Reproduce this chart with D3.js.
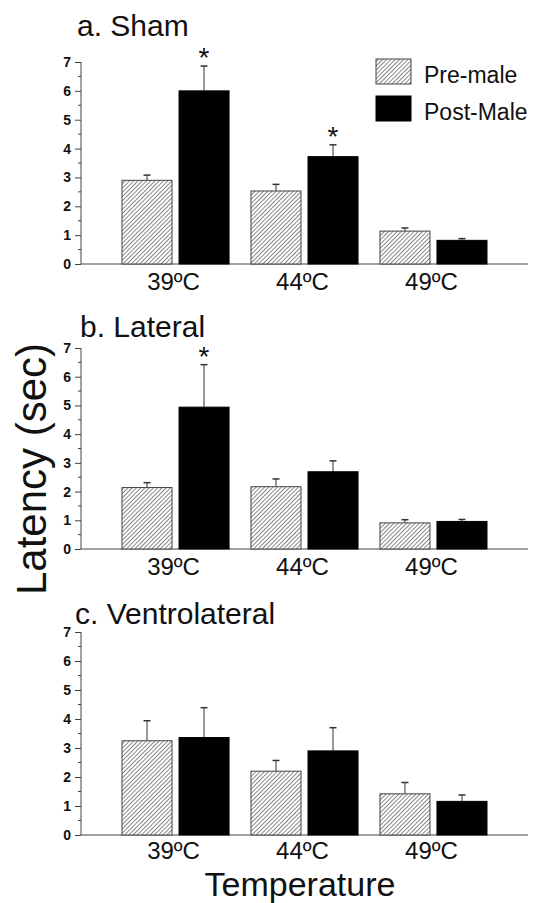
<!DOCTYPE html>
<html><head><meta charset="utf-8">
<script src="https://cdn.jsdelivr.net/npm/d3@7"></script>
<style>
body{margin:0;background:#fff;}
svg{display:block;font-family:"Liberation Sans",Arial,sans-serif;}
</style></head>
<body>
<svg id="chart" width="534" height="903"></svg>
<script>
const categories = ["39ºC", "44ºC", "49ºC"];
const series = ["Pre-male", "Post-Male"];
const yTicks = [0, 1, 2, 3, 4, 5, 6, 7];

const panelTitles = ["a. Sham", "b. Lateral", "c. Ventrolateral"];

const shamPre = [2.90, 2.53, 1.14];
const shamPreErr = [0.18, 0.23, 0.11];
const shamPost = [6.00, 3.72, 0.82];
const shamPostErr = [0.86, 0.41, 0.06];
const shamStars = [[false, true], [false, true], [false, false]];

const lateralPre = [2.14, 2.17, 0.91];
const lateralPreErr = [0.17, 0.27, 0.11];
const lateralPost = [4.94, 2.69, 0.96];
const lateralPostErr = [1.48, 0.38, 0.07];
const lateralStars = [[false, true], [false, false], [false, false]];

const ventroPre = [3.25, 2.20, 1.42];
const ventroPreErr = [0.69, 0.37, 0.39];
const ventroPost = [3.36, 2.90, 1.16];
const ventroPostErr = [1.03, 0.80, 0.22];
const ventroStars = [[false, false], [false, false], [false, false]];

const panels = [
  {title: panelTitles[0], pre: shamPre, preErr: shamPreErr, post: shamPost, postErr: shamPostErr, stars: shamStars, top: 62, bottom: 264, titleX: 77, titleY: 36, catDy: 26},
  {title: panelTitles[1], pre: lateralPre, preErr: lateralPreErr, post: lateralPost, postErr: lateralPostErr, stars: lateralStars, top: 348, bottom: 549, titleX: 80, titleY: 337, catDy: 26},
  {title: panelTitles[2], pre: ventroPre, preErr: ventroPreErr, post: ventroPost, postErr: ventroPostErr, stars: ventroStars, top: 632, bottom: 835, titleX: 75, titleY: 624, catDy: 24}
];

const svg = d3.select("#chart");
const defs = svg.append("defs");
const pat = defs.append("pattern").attr("id", "hatch")
  .attr("patternUnits", "userSpaceOnUse").attr("width", 3).attr("height", 3)
  .attr("patternTransform", "rotate(45)");
pat.append("rect").attr("width", 3).attr("height", 3).attr("fill", "#fff");
pat.append("line").attr("x1", 0).attr("y1", 0).attr("x2", 0).attr("y2", 3)
  .attr("stroke", "#222").attr("stroke-width", 1.1);

const axisX0 = 81, axisX1 = 528;
const x = d3.scaleBand().domain(categories).range([axisX0, axisX1])
  .paddingInner(0.17).paddingOuter(0.318);
const xs = d3.scaleBand().domain(series).range([0, x.bandwidth()]).paddingInner(0.1228);
const fills = ["url(#hatch)", "#000"];

panels.forEach(p => {
  const y = d3.scaleLinear().domain([0, 7]).range([p.bottom, p.top]);
  const g = svg.append("g");

  g.append("text").attr("x", p.titleX).attr("y", p.titleY)
    .attr("font-size", 30).attr("fill", "#111").text(p.title);

  const yAxis = d3.axisLeft(y).tickValues(yTicks).tickSize(6).tickPadding(4).tickFormat(d3.format("d"));
  const ya = g.append("g").attr("transform", `translate(${axisX0},0)`).call(yAxis);
  ya.attr("font-family", "'Liberation Sans',Arial,sans-serif");
  ya.select(".domain").attr("stroke", "#444").attr("d", `M0,${p.bottom}V${p.top}`);
  ya.selectAll(".tick line").attr("stroke", "#444");
  ya.selectAll(".tick text").attr("font-size", 14).attr("font-weight", "bold").attr("fill", "#111");

  const minor = d3.range(0.5, 7, 1);
  g.append("g").selectAll("line").data(minor).join("line")
    .attr("x1", axisX0 - 3).attr("x2", axisX0)
    .attr("y1", d => y(d)).attr("y2", d => y(d)).attr("stroke", "#444");

  g.append("line").attr("x1", axisX0).attr("x2", axisX1)
    .attr("y1", p.bottom).attr("y2", p.bottom).attr("stroke", "#444").attr("stroke-width", 1.2);

  g.selectAll(".cat").data(categories).join("text")
    .attr("x", d => x(d) + x.bandwidth() / 2 - 2).attr("y", p.bottom + p.catDy)
    .attr("text-anchor", "middle").attr("font-size", 24).attr("fill", "#111").text(d => d);

  const data = [];
  categories.forEach((c, i) => {
    data.push({c, s: series[0], v: p.pre[i], e: p.preErr[i], star: p.stars[i][0], k: 0});
    data.push({c, s: series[1], v: p.post[i], e: p.postErr[i], star: p.stars[i][1], k: 1});
  });

  const eb = g.append("g");
  data.forEach(d => {
    const cx = x(d.c) + xs(d.s) + xs.bandwidth() / 2;
    eb.append("line").attr("x1", cx).attr("x2", cx).attr("y1", y(d.v)).attr("y2", y(d.v + d.e))
      .attr("stroke", "#333").attr("stroke-width", 1);
    eb.append("line").attr("x1", cx - 3.5).attr("x2", cx + 3.5).attr("y1", y(d.v + d.e)).attr("y2", y(d.v + d.e))
      .attr("stroke", "#333").attr("stroke-width", 1.5);
  });

  g.append("g").selectAll("rect").data(data).join("rect")
    .attr("x", d => x(d.c) + xs(d.s)).attr("width", xs.bandwidth())
    .attr("y", d => y(d.v)).attr("height", d => p.bottom - y(d.v))
    .attr("fill", d => fills[d.k]).attr("stroke", d => d.k === 0 ? "#444" : "#000").attr("stroke-width", 1);

  g.append("g").selectAll("text").data(data.filter(d => d.star)).join("text")
    .attr("x", d => x(d.c) + xs(d.s) + xs.bandwidth() / 2)
    .attr("y", d => y(d.v + d.e) + 1)
    .attr("text-anchor", "middle").attr("font-size", 28).attr("fill", "#111").text("*");
});

const leg = svg.append("g");
series.forEach((s, i) => {
  leg.append("rect").attr("x", 376).attr("y", 59 + i * 37).attr("width", 35).attr("height", 25)
    .attr("fill", fills[i]).attr("stroke", i === 0 ? "#444" : "#000");
  leg.append("text").attr("x", 424).attr("y", 83 + i * 37).attr("font-size", 23).attr("fill", "#111").text(s);
});

svg.append("text").attr("transform", "translate(46,469) rotate(-90)")
  .attr("text-anchor", "middle").attr("font-size", 42).attr("fill", "#111").text("Latency (sec)");
svg.append("text").attr("x", 300).attr("y", 895.5)
  .attr("text-anchor", "middle").attr("font-size", 34).attr("fill", "#111").text("Temperature");
</script>
</body></html>
